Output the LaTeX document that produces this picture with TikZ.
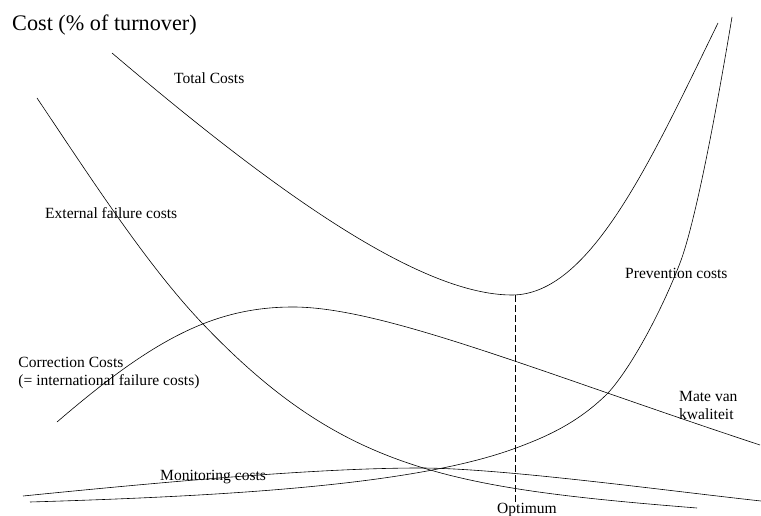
\documentclass[tikz,border=0pt]{standalone}
\usepackage{fontspec}
\setmainfont{Liberation Serif}
\usetikzlibrary{calc}

\begin{document}
\begin{tikzpicture}[x=1bp,y=-1bp,
	curve/.style={line width=.6pt},
	lbl/.style={anchor=base west,inner sep=0pt,font=\fontsize{15.6}{18.7}\selectfont}]
	\useasboundingbox (0,0) rectangle (761,516);
	%		\draw [thin,densely dashed](0,0)grid[step=50](761,516);
	
	\node[lbl,font=\fontsize{22.3}{26}\selectfont] (title) at (12,30.5) {Cost (\% of turnover)};
	
	% total costs
	\draw[curve] (112,53) .. controls (262,180.5) and (415,295) .. (512,295)
		.. controls (590,295) and (650,162.4) .. (718,23);
	\node[lbl] (total) at (174,84) {Total Costs};
	
	% external failure costs
	\draw[curve] (37,98) .. controls (92,180) and (147,265) .. (202,323)
		.. controls (342,470) and (447,488) .. (697,508);
	\node[lbl] (ext) at (45,218.5) {External failure costs};
	
	% correction costs
	\draw[curve] (57,422) .. controls (152,340.3) and (213,307) .. (293,307)
		.. controls (383,307) and (540,372.4) .. (760,445);
	\node[lbl] (corr) at (18.3,367) {Correction Costs};
	\node[lbl] (corr2) at (18.3,385) {(= international failure costs)};
	\node[lbl] (mate) at (679,401.5) {Mate van};
	\node[lbl] (mate2) at (679,419) {kwaliteit};
	
	% monitoring costs
	\draw[curve] (23,496) .. controls (173,481) and (320,468) .. (420,468)
		.. controls (500,468) and (661,490) .. (761,501);
	\node[lbl] (mon) at (160,480.3) {Monitoring costs};
	
	% prevention costs
	\draw[curve] (30,502) .. controls (230,496) and (416,485) .. (516,448)
		.. controls (546,436.9) and (578,423) .. (608,393)
		.. controls (632,366.6) and (662,309.8) .. (680,263)
		.. controls (690,237) and (707,167) .. (732,17);
	\node[lbl] (prev) at (625,279) {Prevention costs};
	
	% optimum
	\coordinate (opt) at (515.5,295);
	\coordinate (optb) at (515.5,502);
	\draw[line width=.6pt,dash pattern=on 7bp off 3bp] (opt) -- (optb);
	\node[lbl] (optimum) at (497,513.6) {Optimum};
	
\end{tikzpicture}
\end{document}
